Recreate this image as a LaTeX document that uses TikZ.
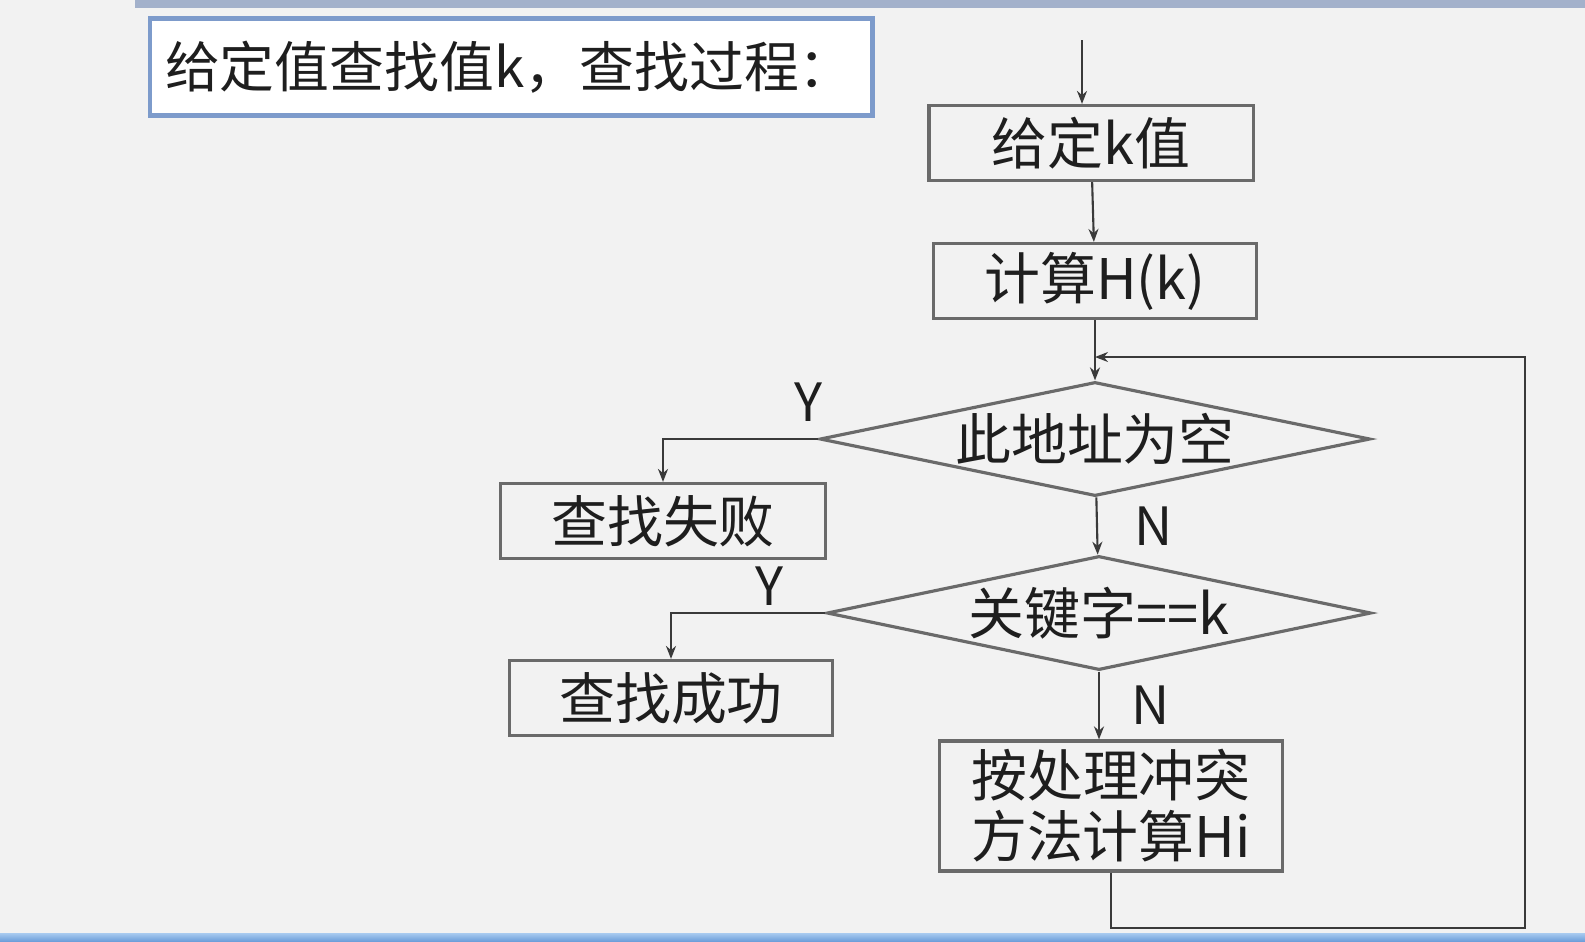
\documentclass[tikz,border=0pt]{standalone}
\usepackage{fontspec}
\setmainfont{Noto Sans CJK SC}
\usetikzlibrary{shapes.geometric, arrows.meta, positioning}
\usepackage{xcolor}
\definecolor{PageBg}{HTML}{F2F2F2}
\definecolor{BarTop}{HTML}{A3B1CB}
\definecolor{BarLight}{HTML}{A9CBF0}
\definecolor{BarDark}{HTML}{6E9FDA}
\definecolor{TitleEdge}{HTML}{7D9BCB}
\definecolor{BoxEdge}{HTML}{6A6A6A}
\definecolor{LineDark}{HTML}{3A3A3A}
\definecolor{TextDark}{HTML}{1E1E1E}

\begin{document}
\begin{tikzpicture}[
            x=0.01cm, y=-0.01cm,
            every node/.style={font=\fontsize{15.9pt}{17.3pt}\selectfont, text=TextDark},
            titlebox/.style={rectangle, draw=TitleEdge, fill=white, line width=1.2pt, minimum height=0.97cm, inner xsep=0.15cm, text width=6.92cm, align=left, anchor=west, font=\fontsize{15.6pt}{17pt}\selectfont},
            procbox/.style={rectangle, draw=BoxEdge, line width=0.9pt, minimum height=0.75cm, inner sep=0pt, align=center},
            testbox/.style={diamond, draw=BoxEdge, line width=0.9pt, inner sep=0pt, shape aspect=4.8, minimum width=5.5cm, minimum height=1.14cm},
            arrow/.style={-{Stealth[length=1.3mm, width=1mm]}, line width=0.6pt, color=LineDark},
            tag/.style={font=\fontsize{15pt}{15pt}\selectfont}
        ]
            % page
            \fill[PageBg] (0,0) rectangle (1585,941);
            \fill[BarTop] (135,0) rectangle (1585,8);
            \shade[top color=BarLight, bottom color=BarDark] (0,933) rectangle (1585,941);

            \node[titlebox] (title) at (148,67) {给定值查找值k，查找过程：};

            \coordinate (start) at (1082,40);
            \node[procbox, minimum width=3.24cm] (give) at (1091,143) {给定k值};
            \node[procbox, minimum width=3.23cm] (hash) at (1095,281) {计算H(k)};
            \node[testbox] (empty) at (1095,439) {此地址为空};
            \node[testbox, minimum width=5.44cm] (keyeq) at (1099,613) {关键字==k};
            \node[procbox, minimum width=3.24cm] (fail) at (663,521) {查找失败};
            \node[procbox, minimum width=3.23cm] (succ) at (671,698) {查找成功};
            \node[procbox, minimum width=3.43cm, minimum height=1.3cm] (probe) at (1111,806) {按处理冲突\\方法计算Hi};
            \coordinate (loopin) at (1095,357);

            \draw[arrow] (start) -- (start |- give.north);
            \draw[arrow] (give) -- (hash);
            \draw[arrow] (hash) -- (empty);
            \draw[arrow] (empty) -- node[right, tag, xshift=0.25cm]{N} (keyeq);
            \draw[arrow] (keyeq.south) -- node[right, tag, xshift=0.2cm]{N} (keyeq.south |- probe.north);
            \draw[arrow] (empty.west) -| node[pos=0.03, above, tag, yshift=0.05cm]{Y} (fail.north);
            \draw[arrow] (keyeq.west) -| node[pos=0.18, above, tag, yshift=-0.05cm]{Y} (succ.north);
            \draw[arrow] (probe.south) |- (1525,928) |- (loopin);
        \end{tikzpicture}
\end{document}
